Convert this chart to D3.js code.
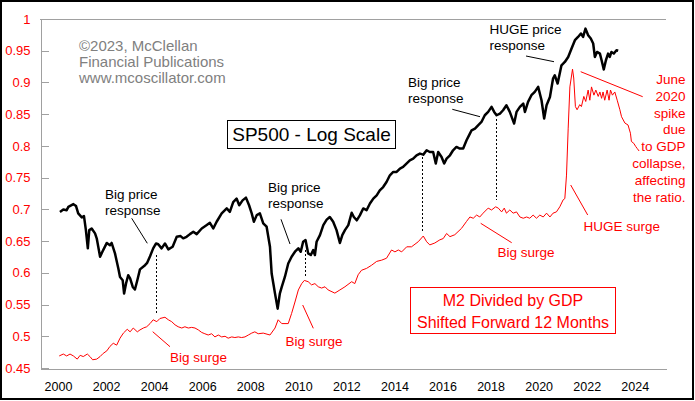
<!DOCTYPE html>
<html>
<head>
<meta charset="utf-8">
<script src="https://cdn.jsdelivr.net/npm/d3@7"></script>
<style>
  body { margin: 0; background: #fff; }
  svg { display: block; font-family: "Liberation Sans", Arial, sans-serif; }
</style>
</head>
<body>
<svg width="695" height="401"></svg>
<script>
// SP500 (log scale)
var spxDates = [2000.08, 2000.22, 2000.36, 2000.43, 2000.64, 2000.75, 2000.84, 2000.99, 2001.08, 2001.16,
    2001.24, 2001.30, 2001.40, 2001.54, 2001.61, 2001.75, 2001.88, 2002.03, 2002.16, 2002.23,
    2002.37, 2002.51, 2002.58, 2002.69, 2002.75, 2002.83, 2002.92, 2003.00, 2003.11, 2003.20,
    2003.30, 2003.41, 2003.62, 2003.71, 2003.83, 2003.96, 2004.08, 2004.17, 2004.31, 2004.45,
    2004.59, 2004.77, 2004.94, 2005.10, 2005.21, 2005.35, 2005.49, 2005.63, 2005.77, 2005.98,
    2006.19, 2006.32, 2006.46, 2006.60, 2006.81, 2007.02, 2007.15, 2007.29, 2007.43, 2007.54,
    2007.68, 2007.82, 2007.95, 2008.06, 2008.15, 2008.27, 2008.40, 2008.54, 2008.68, 2008.82,
    2008.89, 2008.96, 2009.03, 2009.14, 2009.23, 2009.31, 2009.44, 2009.58, 2009.72, 2009.86,
    2010.00, 2010.10, 2010.20, 2010.30, 2010.41, 2010.52, 2010.62, 2010.69, 2010.76, 2010.90,
    2011.04, 2011.18, 2011.31, 2011.45, 2011.59, 2011.73, 2011.83, 2011.94, 2012.08, 2012.22,
    2012.31, 2012.43, 2012.56, 2012.70, 2012.84, 2012.98, 2013.12, 2013.26, 2013.39, 2013.53,
    2013.67, 2013.81, 2013.95, 2014.09, 2014.23, 2014.36, 2014.50, 2014.64, 2014.78, 2014.92,
    2015.06, 2015.20, 2015.34, 2015.47, 2015.61, 2015.72, 2015.82, 2015.96, 2016.07, 2016.17,
    2016.31, 2016.44, 2016.58, 2016.72, 2016.86, 2017.00, 2017.14, 2017.21, 2017.35, 2017.48,
    2017.62, 2017.76, 2017.90, 2018.04, 2018.15, 2018.25, 2018.39, 2018.52, 2018.66, 2018.80,
    2018.98, 2019.08, 2019.22, 2019.36, 2019.43, 2019.56, 2019.70, 2019.84, 2019.98, 2020.12,
    2020.23, 2020.33, 2020.47, 2020.60, 2020.67, 2020.79, 2020.95, 2021.09, 2021.23, 2021.37,
    2021.51, 2021.64, 2021.76, 2021.85, 2021.95, 2022.06, 2022.17, 2022.27, 2022.34, 2022.43,
    2022.55, 2022.62, 2022.71, 2022.80, 2022.89, 2022.96, 2023.03, 2023.13, 2023.24, 2023.31];
var spxValues = [1469, 1492, 1485, 1517, 1544, 1525, 1455, 1418, 1430, 1307,
    1163, 1307, 1321, 1280, 1240, 1102, 1150, 1204, 1187, 1204,
    1126, 1022, 968, 948, 870, 928, 979, 959, 908, 893,
    948, 1016, 1044, 1060, 1106, 1163, 1200, 1194, 1163, 1200,
    1155, 1175, 1252, 1258, 1240, 1252, 1274, 1293, 1274, 1321,
    1350, 1370, 1321, 1379, 1455, 1502, 1469, 1565, 1600, 1533,
    1582, 1610, 1533, 1455, 1379, 1439, 1455, 1365, 1336, 1175,
    990, 928, 870, 790, 870, 908, 968, 1055, 1102, 1138,
    1163, 1138, 1213, 1226, 1126, 1114, 1150, 1114, 1213, 1266,
    1350, 1398, 1422, 1379, 1307, 1204, 1266, 1307, 1350, 1461,
    1422, 1392, 1437, 1502, 1485, 1550, 1600, 1634, 1687, 1723,
    1780, 1858, 1898, 1898, 1940, 1960, 2003, 2045, 2067, 2112,
    2135, 2121, 2181, 2157, 2157, 2003, 2157, 2089, 2003, 2067,
    2112, 2181, 2228, 2205, 2205, 2325, 2427, 2479, 2506, 2560,
    2615, 2730, 2789, 2880, 2789, 2730, 2760, 2819, 2911, 2789,
    2588, 2789, 2880, 2943, 2789, 2974, 3104, 3171, 3274, 3005,
    2672, 2911, 3070, 3454, 3528, 3345, 3761, 3842, 3967, 4187,
    4416, 4510, 4610, 4510, 4757, 4561, 4465, 4324, 3967, 4096,
    4054, 3884, 3659, 3884, 4054, 3967, 4096, 4054, 4141, 4128];

// M2 / GDP, shifted forward 12 months
var m2Dates = [2000.05, 2000.22, 2000.36, 2000.50, 2000.64, 2000.80, 2000.92, 2001.05, 2001.22, 2001.33,
    2001.44, 2001.61, 2001.75, 2001.88, 2002.03, 2002.16, 2002.30, 2002.44, 2002.58, 2002.72,
    2002.88, 2003.00, 2003.13, 2003.30, 2003.41, 2003.55, 2003.69, 2003.83, 2003.96, 2004.11,
    2004.24, 2004.45, 2004.59, 2004.73, 2004.87, 2005.00, 2005.15, 2005.28, 2005.42, 2005.56,
    2005.70, 2005.84, 2005.98, 2006.11, 2006.25, 2006.39, 2006.53, 2006.67, 2006.81, 2006.95,
    2007.08, 2007.23, 2007.36, 2007.50, 2007.64, 2007.78, 2007.92, 2008.06, 2008.19, 2008.33,
    2008.54, 2008.82, 2009.03, 2009.16, 2009.31, 2009.58, 2009.72, 2009.86, 2010.00, 2010.14,
    2010.25, 2010.41, 2010.55, 2010.69, 2010.83, 2010.97, 2011.11, 2011.24, 2011.52, 2011.73,
    2011.94, 2012.22, 2012.35, 2012.49, 2012.63, 2012.84, 2013.05, 2013.26, 2013.47, 2013.67,
    2013.88, 2014.02, 2014.16, 2014.30, 2014.51, 2014.71, 2014.99, 2015.20, 2015.34, 2015.47,
    2015.68, 2015.89, 2016.03, 2016.17, 2016.31, 2016.51, 2016.79, 2017.00, 2017.14, 2017.28,
    2017.42, 2017.55, 2017.69, 2017.90, 2018.04, 2018.21, 2018.32, 2018.46, 2018.57, 2018.66,
    2018.80, 2018.94, 2019.08, 2019.22, 2019.36, 2019.50, 2019.63, 2019.77, 2019.91, 2020.05,
    2020.19, 2020.33, 2020.47, 2020.60, 2020.74, 2020.88, 2021.02, 2021.09, 2021.16, 2021.23,
    2021.30, 2021.41, 2021.46, 2021.53, 2021.60, 2021.71, 2021.78, 2021.88, 2021.96, 2022.06,
    2022.13, 2022.20, 2022.30, 2022.38, 2022.48, 2022.55, 2022.62, 2022.68, 2022.75, 2022.85,
    2022.93, 2022.99, 2023.07, 2023.17, 2023.27, 2023.38, 2023.45, 2023.59, 2023.72, 2023.82,
    2023.86, 2023.96, 2024.04, 2024.10, 2024.18];
var m2Values = [0.469, 0.472, 0.469, 0.472, 0.469, 0.464, 0.470, 0.468, 0.472, 0.468,
    0.463, 0.464, 0.468, 0.473, 0.477, 0.484, 0.489, 0.486, 0.497, 0.505,
    0.511, 0.507, 0.513, 0.507, 0.510, 0.513, 0.515, 0.520, 0.526, 0.523,
    0.528, 0.530, 0.526, 0.523, 0.518, 0.515, 0.513, 0.515, 0.513, 0.514,
    0.513, 0.510, 0.506, 0.504, 0.502, 0.504, 0.499, 0.502, 0.499, 0.500,
    0.497, 0.499, 0.498, 0.499, 0.498, 0.499, 0.502, 0.505, 0.507, 0.504,
    0.505, 0.502, 0.513, 0.526, 0.520, 0.520, 0.536, 0.554, 0.573, 0.583,
    0.588, 0.586, 0.581, 0.583, 0.578, 0.576, 0.578, 0.573, 0.568, 0.573,
    0.578, 0.586, 0.583, 0.597, 0.604, 0.607, 0.612, 0.618, 0.620, 0.623,
    0.636, 0.633, 0.636, 0.633, 0.641, 0.641, 0.649, 0.658, 0.649, 0.644,
    0.647, 0.652, 0.654, 0.662, 0.657, 0.660, 0.670, 0.681, 0.688, 0.686,
    0.691, 0.688, 0.694, 0.702, 0.699, 0.704, 0.702, 0.696, 0.702, 0.694,
    0.699, 0.694, 0.696, 0.688, 0.686, 0.688, 0.686, 0.691, 0.686, 0.691,
    0.688, 0.694, 0.688, 0.694, 0.696, 0.704, 0.715, 0.717, 0.754, 0.828,
    0.893, 0.921, 0.907, 0.862, 0.857, 0.865, 0.862, 0.878, 0.870, 0.888,
    0.872, 0.893, 0.880, 0.888, 0.878, 0.885, 0.875, 0.885, 0.872, 0.888,
    0.872, 0.888, 0.880, 0.885, 0.872, 0.857, 0.846, 0.836, 0.833, 0.820,
    0.807, 0.804, 0.799, 0.796, 0.792];

var ratioTicks = [0.45, 0.5, 0.55, 0.6, 0.65, 0.7, 0.75, 0.8, 0.85, 0.9, 0.95, 1];
var yearTicks = [2000, 2002, 2004, 2006, 2008, 2010, 2012, 2014, 2016, 2018, 2020, 2022, 2024];

// dotted links between the price response and the surge
var linkDates = [2004.08, 2010.28, 2015.15, 2018.22];
var linkSpx = [1114, 1150, 2089, 2672];
var linkRatio = [0.5335, 0.5918, 0.6623, 0.7148];

document.addEventListener("DOMContentLoaded", () => {
    var svg = d3.select("svg"),
        left = 40, right = 666, top = 19, bottom = 368;

    var x = d3.scaleLinear().domain([1999.25, 2025.3]).range([left, right]);
    var yRatio = d3.scaleLinear().domain([0.45, 1]).range([bottom, top]);
    var ySpx = d3.scaleLog().domain([540, 5060]).range([bottom, top]);

    var grey = "#a0a0a0", red = "#ff0000";

    // outer frame
    svg.append("rect")
        .attr("x", 1).attr("y", 1)
        .attr("width", 692).attr("height", 398)
        .attr("fill", "#fff")
        .attr("stroke", "#000")
        .attr("stroke-width", 2)
        .attr("shape-rendering", "crispEdges");

    // top border of plot
    svg.append("line")
        .attr("x1", left).attr("x2", right)
        .attr("y1", top + 0.5).attr("y2", top + 0.5)
        .attr("stroke", grey)
        .attr("shape-rendering", "crispEdges");

    var yAxis = svg.append("g")
        .attr("transform", "translate(" + (left + 0.5) + ",0)")
        .attr("shape-rendering", "crispEdges")
        .call(d3.axisLeft(yRatio)
            .tickValues(ratioTicks)
            .tickFormat(d => String(+d.toFixed(2)))
            .tickSizeInner(-8)
            .tickSizeOuter(0)
            .tickPadding(10));
    yAxis.select(".domain").attr("stroke", grey);
    yAxis.selectAll(".tick line").attr("stroke", grey);
    yAxis.selectAll(".tick text")
        .attr("fill", red)
        .attr("font-size", 13)
        .attr("font-family", "Liberation Sans, Arial, sans-serif");

    var xAxis = svg.append("g")
        .attr("transform", "translate(0," + (bottom + 0.5) + ")")
        .attr("shape-rendering", "crispEdges")
        .call(d3.axisBottom(x)
            .tickValues(yearTicks)
            .tickFormat(d3.format("d"))
            .tickSize(0)
            .tickPadding(14));
    xAxis.select(".domain").attr("stroke", grey);
    xAxis.selectAll(".tick text")
        .attr("fill", "#000")
        .attr("font-size", 12.5)
        .attr("font-family", "Liberation Sans, Arial, sans-serif");

    // copyright
    var copy = ["\u00a92023, McClellan", "Financial Publications", "www.mcoscillator.com"];
    svg.selectAll(".copy")
        .data(copy)
        .enter().append("text")
        .attr("x", 79)
        .attr("y", (d, i) => 51 + i * 16)
        .attr("fill", "#808080")
        .attr("font-size", 15)
        .text(d => d);

    // title box
    svg.append("rect")
        .attr("x", 227.5).attr("y", 120.5)
        .attr("width", 168).attr("height", 28)
        .attr("fill", "#fff").attr("stroke", "#000")
        .attr("shape-rendering", "crispEdges");
    svg.append("text")
        .attr("x", 311.5).attr("y", 140.5)
        .attr("text-anchor", "middle")
        .attr("font-size", 19)
        .text("SP500 - Log Scale");

    // legend box for the red line
    svg.append("rect")
        .attr("x", 410.5).attr("y", 287.5)
        .attr("width", 205).attr("height", 46)
        .attr("fill", "#fff").attr("stroke", red)
        .attr("shape-rendering", "crispEdges");
    svg.selectAll(".legend")
        .data(["M2 Divided by GDP", "Shifted Forward 12 Months"])
        .enter().append("text")
        .attr("x", 513).attr("y", (d, i) => 305.8 + i * 21.7)
        .attr("text-anchor", "middle")
        .attr("fill", red)
        .attr("font-size", 16)
        .text(d => d);

    // dotted links
    svg.selectAll(".link")
        .data(linkDates)
        .enter().append("line")
        .attr("x1", d => Math.round(x(d)) + 0.5)
        .attr("x2", d => Math.round(x(d)) + 0.5)
        .attr("y1", (d, i) => ySpx(linkSpx[i]))
        .attr("y2", (d, i) => yRatio(linkRatio[i]))
        .attr("stroke", "#000")
        .attr("stroke-dasharray", "2,2")
        .attr("shape-rendering", "crispEdges");

    // red line
    var m2 = m2Dates.map((d, i) => [d, m2Values[i]]);
    svg.append("path")
        .datum(m2)
        .attr("fill", "none")
        .attr("stroke", red)
        .attr("stroke-width", 1)
        .attr("d", d3.line().x(d => x(d[0])).y(d => yRatio(d[1])));

    // black line
    var spx = spxDates.map((d, i) => [d, spxValues[i]]);
    svg.append("path")
        .datum(spx)
        .attr("fill", "none")
        .attr("stroke", "#000")
        .attr("stroke-width", 2.5)
        .attr("stroke-linejoin", "round")
        .attr("d", d3.line().x(d => x(d[0])).y(d => ySpx(d[1])));

    // annotations
    var notes = [
        {t: ["Big price", "response"], x: 105, y: 198.5, c: "#000"},
        {t: ["Big price", "response"], x: 268, y: 191.5, c: "#000"},
        {t: ["Big price", "response"], x: 408, y: 87, c: "#000"},
        {t: ["HUGE price", "response"], x: 489.5, y: 34, c: "#000"},
        {t: ["Big surge"], x: 170, y: 361.7, c: red},
        {t: ["Big surge"], x: 285.5, y: 346, c: red},
        {t: ["Big surge"], x: 497.5, y: 256.7, c: red},
        {t: ["HUGE surge"], x: 583.5, y: 230.7, c: red}
    ];
    notes.forEach(n => {
        svg.append("text")
            .attr("fill", n.c)
            .attr("font-size", 13.5)
            .selectAll("tspan")
            .data(n.t)
            .enter().append("tspan")
            .attr("x", n.x)
            .attr("y", (d, i) => n.y + i * 16.3)
            .text(d => d);
    });

    var june = ["June", "2020", "spike", "due", "to GDP", "collapse,", "affecting", "the ratio."];
    svg.append("text")
        .attr("fill", red)
        .attr("font-size", 13.5)
        .attr("text-anchor", "end")
        .selectAll("tspan")
        .data(june)
        .enter().append("tspan")
        .attr("x", 685.5)
        .attr("y", (d, i) => 84 + i * 16.8)
        .text(d => d);

    // leader lines
    var leaders = [
        [131.7, 218.3, 147.3, 243.3, "#000"],
        [281, 219.3, 290, 244, "#000"],
        [452.3, 109.3, 480, 116.7, "#000"],
        [526, 56, 554, 61.7, "#000"],
        [152.7, 331.7, 170, 346.7, red],
        [302.7, 305, 313.3, 328.3, red],
        [480.7, 223.3, 511.7, 242.7, red],
        [570.7, 185, 587.7, 215, red],
        [580.7, 71.7, 642.7, 96.7, red]
    ];
    svg.selectAll(".leader")
        .data(leaders)
        .enter().append("line")
        .attr("x1", d => d[0]).attr("y1", d => d[1])
        .attr("x2", d => d[2]).attr("y2", d => d[3])
        .attr("stroke", d => d[4])
        .attr("stroke-width", 1);
});
</script>
</body>
</html>
